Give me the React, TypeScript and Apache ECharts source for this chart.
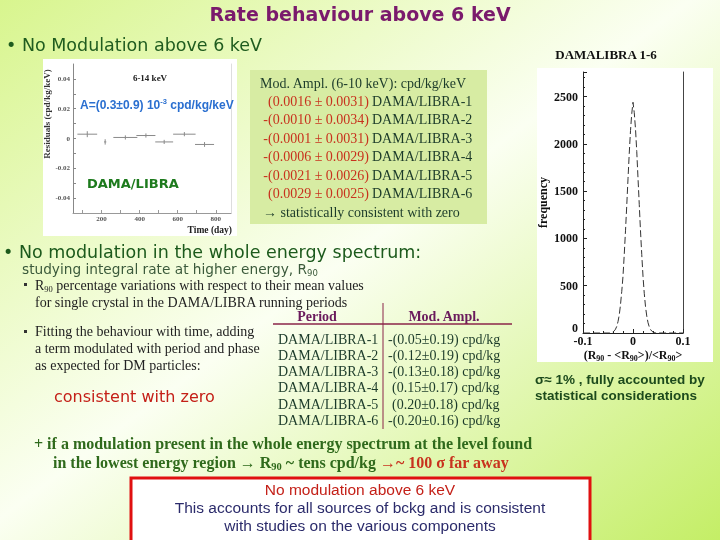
import React, { useEffect, useRef } from "react";
import * as echarts from "echarts";

const SERIF = '"Liberation Serif", "Times New Roman", Times, serif';
const VERDANA = '"DejaVu Sans", Verdana, sans-serif';
const ARIAL = '"Liberation Sans", Arial, Helvetica, sans-serif';

// ---- residuals 6-14 keV vs time ----
const resDays = [125, 219, 325, 433, 529, 635, 741];
const resValues = [0.0029, -0.0023, 0.0007, 0.002, -0.0023, 0.0029, -0.004];
const resDayErr = [52, 6, 63, 50, 47, 59, 50];
const resValErr = [0.002, 0.0018, 0.0014, 0.0014, 0.0014, 0.0014, 0.0016];
const resYLabels = [-0.04, -0.02, 0, 0.02, 0.04];
const resYTicks = [-0.04, -0.03, -0.02, -0.01, 0, 0.01, 0.02, 0.03, 0.04];
const resXLabels = [200, 400, 600, 800];
const resXTicks = [100, 200, 300, 400, 500, 600, 700, 800];

// ---- R90 distribution histogram ----
const histX = [
  -0.1, -0.05, -0.0475, -0.045, -0.0425, -0.04, -0.0375, -0.035, -0.0325, -0.03,
  -0.0275, -0.025, -0.0225, -0.02, -0.0175, -0.015, -0.0125, -0.01, -0.0075, -0.005,
  -0.0025, 0, 0.0025, 0.005, 0.0075, 0.01, 0.0125, 0.015, 0.0175, 0.02,
  0.0225, 0.025, 0.0275, 0.03, 0.0325, 0.035, 0.0375, 0.04, 0.0425, 0.045,
  0.0475, 0.05, 0.1,
];
const histY = [
  0, 0, 0, 2, 5, 12, 22, 40, 70, 120,
  190, 300, 440, 600, 830, 1080, 1350, 1630, 1900, 2140,
  2320, 2440, 2330, 2160, 1920, 1640, 1360, 1080, 830, 600,
  420, 280, 180, 110, 65, 38, 20, 10, 5, 2,
  1, 0, 0,
];

// ---- modulation amplitudes (6-10 keV) ----
const modAmplValues = [
  "(0.0016 ± 0.0031)",
  "-(0.0010 ± 0.0034)",
  "-(0.0001 ± 0.0031)",
  "-(0.0006 ± 0.0029)",
  "-(0.0021 ± 0.0026)",
  "(0.0029 ± 0.0025)",
];
const periods = [
  "DAMA/LIBRA-1",
  "DAMA/LIBRA-2",
  "DAMA/LIBRA-3",
  "DAMA/LIBRA-4",
  "DAMA/LIBRA-5",
  "DAMA/LIBRA-6",
];
// ---- R90 modulation amplitudes ----
const r90Ampl = [
  "-(0.05±0.19) cpd/kg",
  "-(0.12±0.19) cpd/kg",
  "-(0.13±0.18) cpd/kg",
  "(0.15±0.17) cpd/kg",
  "(0.20±0.18) cpd/kg",
  "-(0.20±0.16) cpd/kg",
];

const RED = "#c8321e";
const DKGREEN = "#1c3b2a";
const GREEN = "#2f6a1c";

function txt(x: number, y: number, text: string, o: any): any {
  const align = o.align || "left";
  return {
    type: "text",
    x,
    y,
    z: 100,
    rotation: o.rotation || 0,
    style: {
      text,
      fill: o.fill || "#222",
      fontSize: o.size || 12,
      fontFamily: o.family || SERIF,
      fontWeight: o.weight || "normal",
      align,
      textAlign: align,
      verticalAlign: "middle",
      textVerticalAlign: "middle",
      lineHeight: o.lh,
      rich: o.rich,
    },
  };
}

function subRich(size: number, family: string, fill: string, weight = "normal") {
  return {
    fontSize: size,
    fontFamily: family,
    fill,
    fontWeight: weight,
    verticalAlign: "bottom",
    lineHeight: size,
  };
}

function buildOption(): any {
  const graphic: any[] = [];
  // background
  graphic.push({
    type: "rect",
    z: -100,
    shape: { x: 0, y: 0, width: 720, height: 540 },
    style: {
      fill: new echarts.graphic.LinearGradient(0, 0, 1, 1, [
        { offset: 0, color: "#d8f58e" },
        { offset: 0.48, color: "#fbfff2" },
        { offset: 1, color: "#c4ee66" },
      ]),
    },
  });
  // white panels
  graphic.push({ type: "rect", z: -50, shape: { x: 43, y: 59, width: 194, height: 177 }, style: { fill: "#ffffff" } });
  graphic.push({ type: "rect", z: -50, shape: { x: 537, y: 68, width: 176, height: 294 }, style: { fill: "#ffffff" } });
  // mod ampl box
  graphic.push({ type: "rect", z: -50, shape: { x: 250, y: 70, width: 237, height: 154 }, style: { fill: "#d7eca3" } });

  // titles
  graphic.push(txt(360, 14, "Rate behaviour above 6 keV", { size: 19, family: VERDANA, weight: "bold", fill: "#7a1a6c", align: "center" }));
  graphic.push(txt(6, 45, "• No Modulation above 6 keV", { size: 17.5, family: VERDANA, fill: "#1f5c1f" }));
  graphic.push(txt(606, 54, "DAMALIBRA 1-6", { size: 13, family: SERIF, weight: "bold", fill: "#111", align: "center" }));

  // residual plot annotations
  graphic.push(txt(150, 78, "6-14 keV", { size: 9, weight: "bold", fill: "#222", align: "center" }));
  graphic.push(txt(47, 114, "Residuals (cpd/kg/keV)", { size: 9, weight: "bold", fill: "#333", align: "center", rotation: Math.PI / 2 }));
  graphic.push(txt(232, 230, "Time (day)", { size: 9.5, weight: "bold", fill: "#222", align: "right" }));
  graphic.push(
    txt(80, 105, "A=(0.3±0.9) 10{sup|-3} cpd/kg/keV", {
      size: 12,
      family: ARIAL,
      weight: "bold",
      fill: "#2a6fd0",
      lh: 15,
      rich: {
        sup: { fontSize: 7.5, fontFamily: ARIAL, fontWeight: "bold", fill: "#2a6fd0", verticalAlign: "top", lineHeight: 7.5 },
      },
    })
  );
  graphic.push(txt(87, 183, "DAMA/LIBRA", { size: 13, family: VERDANA, weight: "bold", fill: "#1d7a1d" }));

  // mod ampl box text
  graphic.push(txt(260, 83, "Mod. Ampl. (6-10 keV): cpd/kg/keV", { size: 14, fill: DKGREEN }));
  modAmplValues.forEach((v, i) => {
    const y = 101 + i * 18.5;
    graphic.push(txt(369, y, v, { size: 14, fill: RED, align: "right" }));
    graphic.push(txt(372, y, periods[i], { size: 14, fill: DKGREEN }));
  });
  graphic.push(txt(263, 212, "→ statistically consistent with zero", { size: 14, fill: DKGREEN }));

  // section 2
  graphic.push(txt(3, 252, "• No modulation in the whole energy spectrum:", { size: 17.5, family: VERDANA, fill: "#1c5a1c" }));
  graphic.push(
    txt(22, 269, "studying integral rate at higher energy, R{s|90}", {
      size: 13.7,
      family: VERDANA,
      fill: "#3b5a3b",
      lh: 17,
      rich: { s: subRich(8.5, VERDANA, "#3b5a3b") },
    })
  );
  graphic.push({ type: "rect", z: 100, shape: { x: 24, y: 283, width: 3, height: 3 }, style: { fill: "#333" } });
  graphic.push(
    txt(35, 285, "R{s|90} percentage variations with respect to their mean values", {
      size: 14,
      fill: "#222",
      lh: 17,
      rich: { s: subRich(8.5, SERIF, "#222") },
    })
  );
  graphic.push(txt(35, 302, "for single crystal in the DAMA/LIBRA running periods", { size: 14, fill: "#222" }));
  graphic.push({ type: "rect", z: 100, shape: { x: 24, y: 330, width: 3, height: 3 }, style: { fill: "#333" } });
  graphic.push(txt(35, 331, "Fitting the behaviour with time, adding", { size: 14, fill: "#222" }));
  graphic.push(txt(35, 348, "a term modulated with period and phase", { size: 14, fill: "#222" }));
  graphic.push(txt(35, 365, "as expected for DM particles:", { size: 14, fill: "#222" }));
  graphic.push(txt(54, 396, "consistent with zero", { size: 16, family: VERDANA, fill: "#c42018" }));

  // table
  graphic.push(txt(317, 316, "Period", { size: 14, weight: "bold", fill: "#6a1a5c", align: "center" }));
  graphic.push(txt(444, 316, "Mod. Ampl.", { size: 14, weight: "bold", fill: "#6a1a5c", align: "center" }));
  graphic.push({ type: "line", z: 100, shape: { x1: 273, y1: 324, x2: 512, y2: 324 }, style: { stroke: "#8a2448", lineWidth: 1.5 } });
  graphic.push({ type: "line", z: 100, shape: { x1: 383, y1: 303, x2: 383, y2: 429 }, style: { stroke: "#8a2448", lineWidth: 1 } });
  periods.forEach((p, i) => {
    const y = 339 + i * 16.3;
    graphic.push(txt(278, y, p, { size: 14, fill: DKGREEN }));
    const v = r90Ampl[i];
    graphic.push(txt(v.startsWith("-") ? 388 : 392, y, v, { size: 14, fill: DKGREEN }));
  });

  // right-side remark
  graphic.push(txt(535, 379, "σ≈ 1% , fully accounted by", { size: 13.5, family: ARIAL, weight: "bold", fill: "#1c4a1c" }));
  graphic.push(txt(535, 395, "statistical considerations", { size: 13.5, family: ARIAL, weight: "bold", fill: "#1c4a1c" }));

  // bottom lines
  graphic.push(txt(34, 443, "+ if a modulation present in the whole energy spectrum at the level found", { size: 16, weight: "bold", fill: GREEN }));
  graphic.push(
    txt(53, 462, "{g|in the lowest energy region → R}{gs|90}{g| ~ tens cpd/kg }{r|→~ 100 σ far away}", {
      size: 16,
      weight: "bold",
      fill: GREEN,
      lh: 19,
      rich: {
        g: { fontSize: 16, fontFamily: SERIF, fontWeight: "bold", fill: GREEN },
        gs: subRich(10.5, SERIF, GREEN, "bold"),
        r: { fontSize: 16, fontFamily: SERIF, fontWeight: "bold", fill: RED },
      },
    })
  );

  // conclusion box
  graphic.push({
    type: "rect",
    z: 90,
    shape: { x: 131, y: 478, width: 459, height: 70 },
    style: { fill: "#ffffff", stroke: "#e01010", lineWidth: 3 },
  });
  graphic.push(txt(360, 489, "No modulation above 6 keV", { size: 15.5, family: ARIAL, fill: "#c42018", align: "center" }));
  graphic.push(txt(360, 507, "This accounts for all sources of bckg and is consistent", { size: 15.5, family: ARIAL, fill: "#2b2b6b", align: "center" }));
  graphic.push(txt(360, 525, "with studies on the various components", { size: 15.5, family: ARIAL, fill: "#2b2b6b", align: "center" }));

  const smallLabel = { fontSize: 7, fontWeight: "bold", fontFamily: SERIF, color: "#555" };
  const histLabel = { fontSize: 12, fontWeight: "bold", fontFamily: SERIF, color: "#111" };

  return {
    animation: false,
    graphic,
    grid: [
      { left: 73, top: 64, width: 158, height: 149 },
      { left: 583, top: 72, width: 100, height: 261 },
    ],
    xAxis: [
      {
        type: "value",
        gridIndex: 0,
        min: 50,
        max: 880,
        axisLine: { show: true, onZero: false, lineStyle: { color: "#999", width: 1 } },
        axisTick: { show: true, inside: true, length: 3, customValues: resXTicks, lineStyle: { color: "#999" } },
        axisLabel: { ...smallLabel, margin: 2, customValues: resXLabels, formatter: (v: number) => String(v) },
        splitLine: { show: false },
      },
      {
        type: "value",
        gridIndex: 1,
        min: -0.1,
        max: 0.1,
        interval: 0.1,
        axisLine: { show: true, onZero: false, lineStyle: { color: "#222", width: 1 } },
        axisTick: { show: true, inside: true, length: 4, lineStyle: { color: "#222" } },
        minorTick: { show: true, splitNumber: 5, length: 2, lineStyle: { color: "#222" } },
        axisLabel: {
          ...histLabel,
          margin: 2,
          formatter: (v: number) => (Math.abs(v) < 1e-9 ? "0" : v.toFixed(1)),
        },
        splitLine: { show: false },
        name: "(R{s|90} - <R{s|90}>)/<R{s|90}>",
        nameLocation: "middle",
        nameGap: 11,
        nameTextStyle: {
          fontSize: 12,
          fontWeight: "bold",
          fontFamily: SERIF,
          color: "#111",
          lineHeight: 15,
          rich: {
            s: { fontSize: 8, fontWeight: "bold", fontFamily: SERIF, color: "#111", verticalAlign: "bottom", lineHeight: 8 },
          },
        },
      },
    ],
    yAxis: [
      {
        type: "value",
        gridIndex: 0,
        min: -0.05,
        max: 0.05,
        axisLine: { show: true, onZero: false, lineStyle: { color: "#888", width: 1 } },
        axisTick: { show: true, inside: true, length: 3, customValues: resYTicks, lineStyle: { color: "#888" } },
        axisLabel: {
          ...smallLabel,
          margin: 3,
          customValues: resYLabels,
          formatter: (v: number) => (Math.abs(v) < 1e-9 ? "0" : v.toFixed(2)),
        },
        splitLine: { show: false },
      },
      {
        type: "value",
        gridIndex: 0,
        position: "right",
        min: -0.05,
        max: 0.05,
        axisLine: { show: true, onZero: false, lineStyle: { color: "#ddd", width: 1 } },
        axisTick: { show: false },
        axisLabel: { show: false },
        splitLine: { show: false },
      },
      {
        type: "value",
        gridIndex: 1,
        min: 0,
        max: 2760,
        interval: 500,
        axisLine: { show: true, onZero: false, lineStyle: { color: "#222", width: 1 } },
        axisTick: { show: true, inside: true, length: 4, lineStyle: { color: "#222" } },
        minorTick: { show: true, splitNumber: 5, length: 2, lineStyle: { color: "#222" } },
        axisLabel: {
          ...histLabel,
          margin: 5,
          showMaxLabel: false,
          formatter: (v: number) => (v === 0 ? "{z|0}" : String(v)),
          rich: { z: { fontSize: 12, fontWeight: "bold", fontFamily: SERIF, color: "#111", padding: [0, 0, 10, 0] } },
        },
        splitLine: { show: false },
        name: "frequency",
        nameLocation: "middle",
        nameGap: 34,
        nameTextStyle: { fontSize: 12, fontWeight: "bold", fontFamily: SERIF, color: "#111" },
      },
      {
        type: "value",
        gridIndex: 1,
        position: "right",
        min: 0,
        max: 2760,
        interval: 500,
        axisLine: { show: true, onZero: false, lineStyle: { color: "#444", width: 1 } },
        axisTick: { show: false },
        axisLabel: { show: false },
        splitLine: { show: false },
      },
    ],
    series: [
      {
        type: "custom",
        xAxisIndex: 0,
        yAxisIndex: 0,
        encode: { x: 0, y: 1 },
        data: resDays.map((d, i) => [d, resValues[i], resDayErr[i], resValErr[i]]),
        renderItem: (_params: any, api: any) => {
          const x = api.value(0);
          const y = api.value(1);
          const xe = api.value(2);
          const ye = api.value(3);
          const a = api.coord([x - xe, y]);
          const b = api.coord([x + xe, y]);
          const c = api.coord([x, y - ye]);
          const d = api.coord([x, y + ye]);
          const st = { stroke: "#8a8a8a", lineWidth: 1 };
          return {
            type: "group",
            children: [
              { type: "line", shape: { x1: a[0], y1: a[1], x2: b[0], y2: b[1] }, style: st },
              { type: "line", shape: { x1: c[0], y1: c[1], x2: d[0], y2: d[1] }, style: st },
            ],
          };
        },
      },
      {
        type: "line",
        xAxisIndex: 1,
        yAxisIndex: 2,
        data: histX.map((x, i) => [x, histY[i]]),
        showSymbol: false,
        symbol: "none",
        lineStyle: { color: "#333", width: 1, type: [7, 3] },
      },
    ],
  };
}

export default function App() {
  const ref = useRef<HTMLDivElement>(null);
  useEffect(() => {
    if (!ref.current) return;
    const chart = echarts.init(ref.current, null, { renderer: "svg" });
    chart.setOption(buildOption());
    return () => chart.dispose();
  }, []);
  return (
    <div
      ref={ref}
      style={{ position: "fixed", left: 0, top: 0, width: 720, height: 540 }}
    />
  );
}
